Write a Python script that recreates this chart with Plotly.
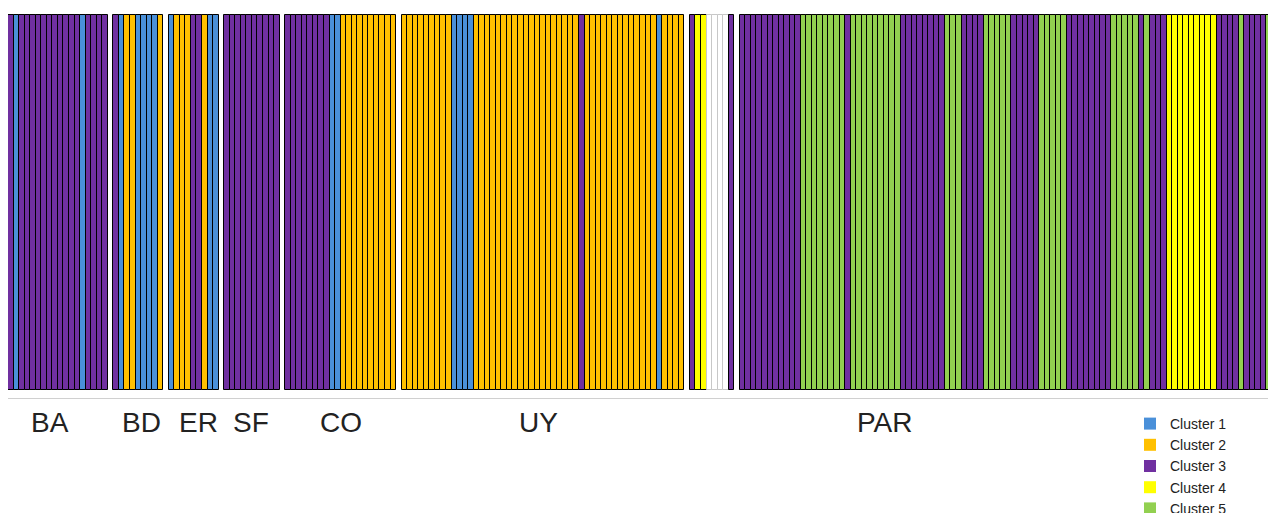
import plotly.graph_objects as go

# ---- data -------------------------------------------------------------
cluster_names = ["Cluster 1", "Cluster 2", "Cluster 3", "Cluster 4", "Cluster 5"]
cluster_colors = ["#4a90d9", "#ffc000", "#7030a0", "#ffff00", "#92d050"]

group_labels = ["BA", "BD", "ER", "SF", "CO", "UY", "", "PAR"]

# cluster assignment (1..5) of each individual, 0 = unassigned
BA = [3, 1, 3, 3, 3, 3, 3, 3, 3, 3, 3, 3, 3, 1, 3, 3, 3, 3]
BD = [3, 1, 2, 2, 1, 1, 1, 1, 2]
ER = [1, 2, 2, 2, 3, 3, 2, 1, 1]
SF = [3, 3, 3, 3, 3, 3, 3, 3, 3, 3]
CO = [3, 3, 3, 3, 3, 3, 3, 3, 1, 1, 2, 2, 2, 2, 2, 2, 2, 2, 2, 2]
UY = [2, 2, 2, 2, 2, 2, 2, 2, 2, 1, 1, 1, 1,
      2, 2, 2, 2, 2, 2, 2, 2, 2, 2, 2, 2, 2, 2, 2, 2, 2, 2, 2,
      3, 2, 2, 2, 2, 2, 2, 2, 2, 2, 2, 2, 2, 2, 1, 2, 2, 2, 2]
XX = [3, 4, 4, 0, 0, 0, 0, 3]
PAR = [3, 3, 3, 3, 3, 3, 3, 3, 3, 3, 3,
       5, 5, 5, 5, 5, 5, 5, 5,
       3,
       5, 5, 5, 5, 5, 5, 5, 5, 5,
       3, 3, 3, 3, 3, 3, 3, 3,
       5, 5, 5,
       3, 3, 3, 3,
       5, 5, 5, 5, 5,
       3, 3, 3, 3, 3,
       5, 5, 5, 5, 5,
       3, 3, 3, 3, 3, 3, 3, 3,
       5, 5, 5, 5, 5,
       3, 5, 3, 3, 3,
       4, 4, 4, 4, 4, 4, 4, 4, 4,
       3, 3, 3, 3,
       5,
       3, 3, 3, 3,
       5]

groups = [BA, BD, ER, SF, CO, UY, XX, PAR]

# ---- build bar positions (one empty slot between groups) --------------
xs, fills, lines = [], [], []
slot = 0
for gi, g in enumerate(groups):
    for c in g:
        xs.append(slot)
        if c == 0:
            fills.append("#ffffff")
            lines.append("#c8c8c8")
        else:
            fills.append(cluster_colors[c - 1])
            lines.append("#000000")
        slot += 1
    if gi < len(groups) - 1:
        slot += 1
n_slots = slot

fig = go.Figure()
fig.add_trace(go.Bar(
    x=xs, y=[1] * len(xs), width=1,
    marker=dict(color=fills, line=dict(color=lines, width=1)),
    showlegend=False, hoverinfo="skip",
))
for name, col in zip(cluster_names, cluster_colors):
    fig.add_trace(go.Scatter(
        x=[None], y=[None], mode="markers", name=name,
        marker=dict(symbol="square", size=11, color=col),
    ))

# page body adds an 8px offset; figure coordinates below are page - 8
W, H = 1268, 505
L, R, T, B = 0, 4, 6, 115
PW, PH = W - L - R, H - T - B
label_px = [50, 141, 198, 251, 341, 538, None, 885]   # page x of label centres
for lab, px in zip(group_labels, label_px):
    if not lab:
        continue
    fig.add_annotation(
        text=lab, xref="paper", yref="paper",
        x=(px - 8 - L) / PW, y=-(422 - 8 - (H - B)) / PH,
        showarrow=False, xanchor="center", yanchor="middle",
        font=dict(size=28, color="#222222", family="Liberation Sans, Arial"),
    )

fig.update_layout(
    width=W, height=H,
    margin=dict(l=L, r=R, t=T, b=B, autoexpand=False),
    plot_bgcolor="white", paper_bgcolor="white",
    bargap=0,
    xaxis=dict(range=[-0.5, n_slots - 0.5], showgrid=False, zeroline=False,
               showticklabels=False, ticks="", showline=True,
               linecolor="#d0d0d0", linewidth=1, fixedrange=True),
    yaxis=dict(range=[-0.0213, 1.003], visible=False, fixedrange=True),
    legend=dict(
        xref="container", yref="container",
        x=1122 / W, y=1 - 400 / H, xanchor="left", yanchor="top",
        font=dict(size=14, color="#222222", family="Liberation Sans, Arial"),
        bgcolor="rgba(0,0,0,0)", tracegroupgap=0, itemsizing="constant",
    ),
)

fig.write_html("out.html")
